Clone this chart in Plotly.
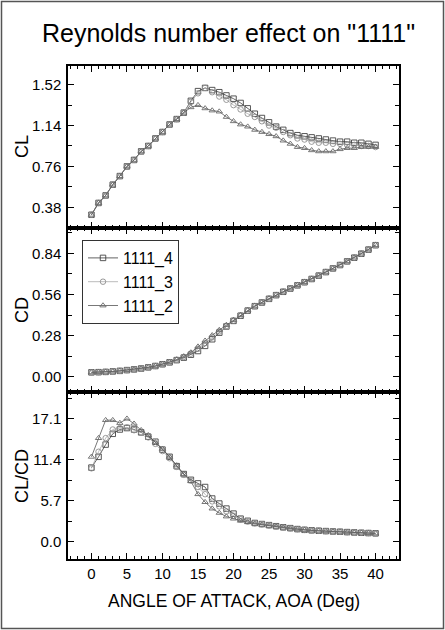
import plotly.graph_objects as go
from plotly.subplots import make_subplots

aoa = [0, 1, 2, 3, 4, 5, 6, 7, 8, 9, 10, 11, 12, 13, 14, 15, 16, 17, 18, 19, 20,
       21, 22, 23, 24, 25, 26, 27, 28, 29, 30, 31, 32, 33, 34, 35, 36, 37, 38, 39, 40]

series_names = ["1111_4", "1111_3", "1111_2"]

cl_4 = [0.31, 0.42, 0.49, 0.59, 0.67, 0.76, 0.82, 0.90, 0.95, 1.02, 1.08, 1.15, 1.20, 1.26, 1.37,
        1.46, 1.49, 1.47, 1.45, 1.42, 1.39, 1.35, 1.30, 1.25, 1.21, 1.17, 1.13, 1.10, 1.07, 1.05,
        1.04, 1.03, 1.02, 1.01, 1.00, 0.99, 0.99, 0.98, 0.98, 0.97, 0.96]
cl_3 = [0.31, 0.42, 0.49, 0.59, 0.67, 0.76, 0.82, 0.90, 0.95, 1.02, 1.08, 1.15, 1.20, 1.26, 1.36,
        1.44, 1.49, 1.45, 1.41, 1.38, 1.33, 1.29, 1.25, 1.22, 1.18, 1.14, 1.12, 1.08, 1.05, 1.02,
        1.01, 0.99, 0.98, 0.98, 0.97, 0.97, 0.96, 0.96, 0.95, 0.95, 0.94]
cl_2 = [0.31, 0.42, 0.49, 0.59, 0.67, 0.76, 0.82, 0.90, 0.95, 1.02, 1.08, 1.15, 1.20, 1.26, 1.31,
        1.33, 1.30, 1.28, 1.27, 1.22, 1.18, 1.15, 1.13, 1.10, 1.08, 1.06, 1.04, 1.00, 0.97, 0.94,
        0.93, 0.91, 0.90, 0.90, 0.90, 0.92, 0.93, 0.93, 0.94, 0.94, 0.94]

cd_4 = [0.030, 0.031, 0.033, 0.036, 0.040, 0.045, 0.050, 0.056, 0.064, 0.073, 0.085, 0.098, 0.113,
        0.130, 0.150, 0.175, 0.210, 0.255, 0.300, 0.342, 0.380, 0.415, 0.450, 0.480, 0.505, 0.530,
        0.555, 0.578, 0.600, 0.622, 0.643, 0.665, 0.688, 0.712, 0.737, 0.760, 0.785, 0.810, 0.837,
        0.865, 0.895]
cd_3 = [0.030, 0.031, 0.033, 0.036, 0.040, 0.045, 0.050, 0.056, 0.064, 0.073, 0.085, 0.098, 0.115,
        0.134, 0.157, 0.190, 0.228, 0.268, 0.308, 0.346, 0.382, 0.417, 0.451, 0.481, 0.506, 0.531,
        0.556, 0.579, 0.601, 0.623, 0.644, 0.666, 0.689, 0.713, 0.738, 0.761, 0.786, 0.811, 0.838,
        0.866, 0.896]
cd_2 = [0.030, 0.031, 0.033, 0.036, 0.040, 0.045, 0.050, 0.056, 0.064, 0.073, 0.085, 0.099, 0.117,
        0.138, 0.165, 0.205, 0.245, 0.282, 0.318, 0.352, 0.386, 0.420, 0.453, 0.482, 0.507, 0.532,
        0.556, 0.579, 0.601, 0.623, 0.644, 0.666, 0.689, 0.713, 0.738, 0.761, 0.786, 0.811, 0.838,
        0.866, 0.896]

clcd_4 = [10.3, 11.8, 13.5, 15.0, 15.6, 15.8, 15.6, 15.2, 14.6, 13.9, 12.8, 11.8, 10.5, 9.4, 8.6,
          8.1, 7.6, 6.0, 5.3, 4.6, 3.9, 3.2, 2.9, 2.6, 2.45, 2.3, 2.15, 2.0, 1.88, 1.75, 1.65, 1.58,
          1.52, 1.47, 1.42, 1.38, 1.33, 1.28, 1.24, 1.20, 1.16]
clcd_3 = [10.2, 12.5, 14.4, 15.6, 15.8, 15.9, 15.5, 15.2, 14.5, 13.6, 12.6, 11.6, 10.4, 9.3, 8.5,
          7.6, 6.6, 5.6, 4.9, 4.2, 3.6, 3.1, 2.8, 2.55, 2.4, 2.25, 2.1, 1.97, 1.85, 1.73, 1.64, 1.57,
          1.51, 1.46, 1.41, 1.37, 1.32, 1.28, 1.24, 1.20, 1.16]
clcd_2 = [11.8, 14.4, 16.9, 16.9, 16.5, 17.1, 16.4, 15.5, 14.8, 13.8, 12.9, 11.8, 10.6, 9.4, 8.4,
          6.6, 5.5, 4.6, 4.0, 3.5, 3.2, 2.9, 2.7, 2.5, 2.35, 2.2, 2.08, 1.95, 1.83, 1.72, 1.62, 1.56,
          1.50, 1.45, 1.40, 1.36, 1.31, 1.27, 1.23, 1.19, 1.15]

x_ticks = [0, 5, 10, 15, 20, 25, 30, 35, 40]
cl_ticks = [0.38, 0.76, 1.14, 1.52]
cd_ticks = [0.00, 0.28, 0.56, 0.84]
clcd_ticks = [0.0, 5.7, 11.4, 17.1]

FONT = "Liberation Sans, Arial, sans-serif"

fig = make_subplots(rows=3, cols=1, shared_xaxes=True, vertical_spacing=0)

styles = [
    dict(symbol="square-open", line="#3a3a3a", mk="#444444"),
    dict(symbol="circle-open", line="#aaaaaa", mk="#8f8f8f"),
    dict(symbol="triangle-up-open", line="#555555", mk="#6a6a6a"),
]
data = [(cl_4, cd_4, clcd_4), (cl_3, cd_3, clcd_3), (cl_2, cd_2, clcd_2)]

for i, (name, st, d) in enumerate(zip(series_names, styles, data)):
    for row in range(3):
        fig.add_trace(go.Scatter(
            x=aoa, y=d[row], mode="lines+markers", name=name,
            showlegend=(row == 1),
            line=dict(color=st["line"], width=0.8),
            marker=dict(symbol=st["symbol"], size=5.5, color=st["mk"], line=dict(width=0.9, color=st["mk"])),
        ), row=row + 1, col=1)

axis_common = dict(showline=True, linecolor="black", linewidth=1.5, mirror="ticks",
                   ticks="inside", ticklen=6, tickwidth=1, tickcolor="black",
                   showgrid=False, zeroline=False,
                   tickfont=dict(family=FONT, size=15, color="black"))

for r in (1, 2, 3):
    fig.update_xaxes(axis_common, row=r, col=1)
    fig.update_xaxes(range=[-3.3, 43.3], tickmode="array", tickvals=x_ticks,
                     minor=dict(ticks="inside", ticklen=3, dtick=1, tick0=0, tickcolor="black"),
                     showticklabels=(r == 3), row=r, col=1)

ydefs = [(cl_ticks, [0.187, 1.694], ".2f", [0.6714, 1.0]),
         (cd_ticks, [-0.104, 1.012], ".2f", [0.3387, 0.6714]),
         (clcd_ticks, [-2.41, 20.81], ".1f", [0.0, 0.3387])]
for r, (tv, rng, fmt, dom) in enumerate(ydefs, start=1):
    step = tv[1] - tv[0]
    fig.update_yaxes(axis_common, row=r, col=1)
    fig.update_yaxes(range=rng, tickmode="linear", tick0=tv[0], dtick=step, tickformat=fmt,
                     domain=dom, ticklabelstandoff=2,
                     minor=dict(ticks="inside", ticklen=4, dtick=step / 2, tick0=tv[0], tickcolor="black"),
                     row=r, col=1)

fig.update_xaxes(domain=[0, 1])

W, H = 445, 630
L, R, T, B = 68, 46, 66, 71
pw, ph = W - L - R, H - T - B

def px(x):
    return (x - L) / pw

def py(y):
    return (H - B - y) / ph

annotations = [
    dict(text='Reynolds number effect on "1111"', x=px(228), y=py(33), xref="paper", yref="paper",
         showarrow=False, font=dict(family=FONT, size=25, color="black"), xanchor="center", yanchor="middle"),
    dict(text="ANGLE OF ATTACK, AOA (Deg)", x=px(234), y=py(601), xref="paper", yref="paper",
         showarrow=False, font=dict(family=FONT, size=17.5, color="black"), xanchor="center", yanchor="middle"),
    dict(text="CL", x=px(22), y=py(147), xref="paper", yref="paper", textangle=-90,
         showarrow=False, font=dict(family=FONT, size=18, color="black"), xanchor="center", yanchor="middle"),
    dict(text="CD", x=px(22), y=py(310), xref="paper", yref="paper", textangle=-90,
         showarrow=False, font=dict(family=FONT, size=18, color="black"), xanchor="center", yanchor="middle"),
    dict(text="CL/CD", x=px(22), y=py(476), xref="paper", yref="paper", textangle=-90,
         showarrow=False, font=dict(family=FONT, size=18, color="black"), xanchor="center", yanchor="middle"),
]

fig.update_layout(
    width=W, height=H,
    margin=dict(l=L, r=R, t=T, b=B, autoexpand=False),
    paper_bgcolor="white", plot_bgcolor="white",
    font=dict(family=FONT, color="black"),
    annotations=annotations,
    legend=dict(x=px(82), y=py(240), xanchor="left", yanchor="top",
                bordercolor="#333333", borderwidth=1, bgcolor="white",
                font=dict(family=FONT, size=16, color="black"), tracegroupgap=0,
                itemwidth=30),
    shapes=[dict(type="rect", xref="paper", yref="paper",
                 x0=px(1.5), x1=px(443.5), y0=py(628.5), y1=py(1.5),
                 line=dict(color="#555555", width=1.5))],
)

fig.write_html("out.html")
